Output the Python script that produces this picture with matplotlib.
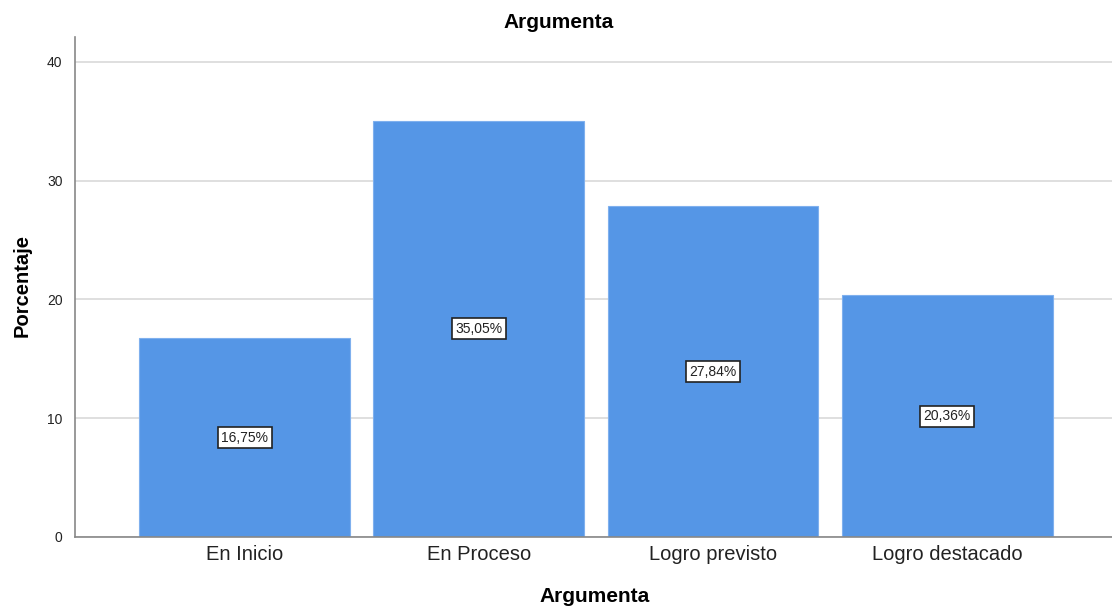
import matplotlib
matplotlib.use("Agg")
import matplotlib.pyplot as plt
import numpy as np

# datos del grafico
categorias = ["En Inicio", "En Proceso", "Logro previsto", "Logro destacado"]
porcentajes = [16.75, 35.05, 27.84, 20.36]
etiquetas = ["16,75%", "35,05%", "27,84%", "20,36%"]
ticks_y = [0, 10, 20, 30, 40]

plt.rcParams['font.family'] = ['Liberation Sans', 'DejaVu Sans']

fig = plt.figure(figsize=(11.12, 6.1), dpi=100)
ax = fig.add_axes([75 / 1112, 1 - 537 / 610, 1 - 75 / 1112, (537 - 37) / 610])

x = np.arange(len(categorias))
ax.bar(x, porcentajes, width=0.9, color="#5596e6", edgecolor="#7fb0ee",
       linewidth=0.8, zorder=2)

for xi, v, t in zip(x, porcentajes, etiquetas):
    ax.text(xi, v / 2, t, ha="center", va="center", fontsize=10, zorder=3,
            color="#222222",
            bbox=dict(boxstyle="square,pad=0.25", facecolor="white",
                      edgecolor="#222222", linewidth=1.2))

ax.set_xlim(-0.724, 3.703)
ax.set_ylim(0, 42.1)
ax.set_yticks(ticks_y)
ax.set_xticks(x)
ax.set_xticklabels(categorias, fontsize=14.5, color="#222222")
ax.tick_params(axis="y", labelsize=10, length=0, pad=9, labelcolor="#222222")
ax.tick_params(axis="x", length=0, pad=6)

ax.yaxis.grid(True, color="#dcdcdc", linewidth=1.3, zorder=0)
ax.set_axisbelow(True)
for s in ["top", "right"]:
    ax.spines[s].set_visible(False)
ax.spines["left"].set_color("#888888")
ax.spines["bottom"].set_color("#888888")
ax.spines["left"].set_linewidth(1.2)
ax.spines["bottom"].set_linewidth(1.2)

fig.text(559 / 1112, 1 - 22 / 610, "Argumenta", ha="center", va="center",
         fontsize=15, fontweight="bold")
fig.text(595 / 1112, 1 - 597 / 610, "Argumenta", ha="center", va="center",
         fontsize=15, fontweight="bold")
fig.text(22 / 1112, 1 - 286 / 610, "Porcentaje", ha="center", va="center",
         rotation=90, fontsize=14.5, fontweight="bold")

fig.savefig("out.png", dpi=100)
